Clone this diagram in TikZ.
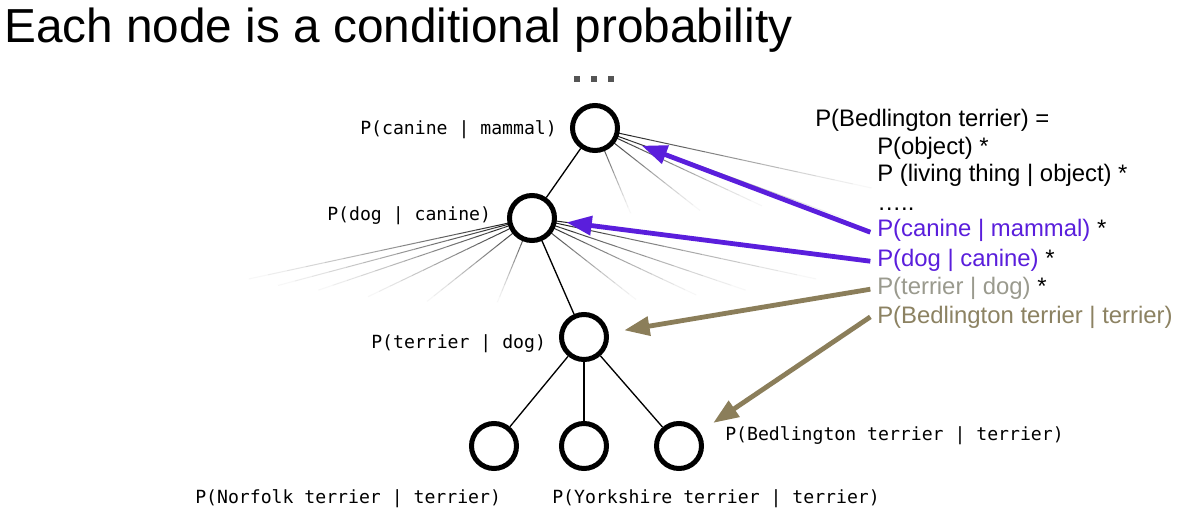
\documentclass[tikz,border=0pt]{standalone}
\usepackage{fontspec}
\setmainfont{Liberation Sans}
\newfontfamily\monofont{DejaVu Sans Mono}
\usetikzlibrary{calc,arrows.meta,backgrounds}
\definecolor{purp}{HTML}{5A1EDC}
\definecolor{tanc}{HTML}{8B7E5A}
\definecolor{tanctext}{HTML}{8C8262}
\definecolor{tgray}{HTML}{9A9A8E}
\definecolor{dotgray}{HTML}{555555}
\tikzset{
  prob/.style={circle, draw=black, line width=3.75pt, fill=white, minimum size=33.75pt, inner sep=0pt},
  mlabel/.style={font=\monofont\fontsize{13.6}{16}\selectfont, anchor=base west, inner sep=0pt},
  eqline/.style={font=\fontsize{17.9}{21}\selectfont, anchor=base west, inner sep=0pt},
  treeedge/.style={line width=1pt, black},
  parrow/.style={draw=purp, line width=3.6pt, -{Triangle[length=19pt,width=14pt]}},
  tarrow/.style={draw=tanc, line width=3.6pt, -{Triangle[length=19pt,width=14pt]}},
  dotsq/.style={fill=dotgray, minimum size=4.5pt, inner sep=0pt, draw=none},
}
\newcommand\fanline[2]{%
  \foreach \i in {0,...,15}{%
    \pgfmathsetmacro\pa{\i/16}%
    \pgfmathsetmacro\pb{(\i+1)/16}%
    \pgfmathtruncatemacro\pc{100*(1-(\i+0.5)/16)^1.4}%
    \draw[line width=0.75pt, black!\pc] ($(#1)!\pa!(#2)$) -- ($(#1)!\pb!(#2)$);
  }}
\begin{document}
\begin{tikzpicture}[x=0.75pt,y=-0.75pt]
\useasboundingbox (0,0) rectangle (1180,520);

% title
\node[anchor=base west, font=\fontsize{35.8}{40}\selectfont, inner sep=0pt] (title) at (4,43) {Each node is a conditional probability};

% dots on top
\node[dotsq] (d1) at (577,79) {};
\node[dotsq] (d2) at (594,79) {};
\node[dotsq] (d3) at (611,79) {};

% tree nodes
\node[prob] (canine) at (595,128) {};
\node[prob] (dog) at (532,218) {};
\node[prob] (terrier) at (584,337) {};
\node[prob] (norfolk) at (494,446) {};
\node[prob] (yorkshire) at (584,446) {};
\node[prob] (bedlington) at (679,446) {};

% fan end points
\coordinate (c1) at (890,192);
\coordinate (c2) at (860,224);
\coordinate (c3) at (773,211);
\coordinate (c4) at (707,216);
\coordinate (c5) at (633,219);
\coordinate (l1) at (230,283);
\coordinate (l2) at (261,290);
\coordinate (l3) at (304,295);
\coordinate (l4) at (357,302);
\coordinate (l5) at (420,307);
\coordinate (l6) at (495,308);
\coordinate (r1) at (862,260);
\coordinate (r2) at (835,283);
\coordinate (r3) at (760,295);
\coordinate (r4) at (707,300);
\coordinate (r5) at (643,305);

\begin{scope}[on background layer]
  \fill[white] (0,0) rectangle (1180,520);
  \foreach \e in {c1,c2,c3,c4,c5}{\fanline{canine.center}{\e}}
  \foreach \e in {l1,l2,l3,l4,l5,l6,r1,r2,r3,r4,r5}{\fanline{dog.center}{\e}}
\end{scope}

% tree edges
\draw[treeedge] (canine) -- (dog);
\draw[treeedge] (dog) -- (terrier);
\draw[treeedge] (terrier) -- (norfolk);
\draw[treeedge] (terrier) -- (yorkshire);
\draw[treeedge] (terrier) -- (bedlington);

% node labels
\node[mlabel] (lcanine) at (360,135) {P(canine | mammal)};
\node[mlabel] (ldog) at (327,220) {P(dog | canine)};
\node[mlabel] (lterrier) at (371,348) {P(terrier | dog)};
\node[mlabel] (lbed) at (725,440) {P(Bedlington terrier | terrier)};
\node[mlabel] (lnor) at (195,503) {P(Norfolk terrier | terrier)};
\node[mlabel] (lyor) at (552,503) {P(Yorkshire terrier | terrier)};

% equation text
\node[eqline] (eq1) at (815,127) {P(Bedlington terrier) =};
\node[eqline] (eq2) at (877,155) {P(object) *};
\node[eqline] (eq3) at (877,182) {P (living thing | object) *};
\node[eqline] (eq4) at (877,210) {…..};
\node[eqline] (eq5) at (877,237) {\textcolor{purp}{P(canine | mammal)} *};
\node[eqline] (eq6) at (877,266) {\textcolor{purp}{P(dog | canine)} *};
\node[eqline] (eq7) at (877,294) {\textcolor{tgray}{P(terrier | dog)} *};
\node[eqline] (eq8) at (877,323) {\textcolor{tanctext}{P(Bedlington terrier | terrier)}};

% arrows
\coordinate (s5) at ([xshift=-5pt,yshift=-1pt]eq5.west);
\coordinate (s6) at ([xshift=-5pt,yshift=-1pt]eq6.west);
\coordinate (s7) at ([xshift=-5pt,yshift=-1pt]eq7.west);
\coordinate (s8) at ([xshift=-5pt,yshift=0pt]eq8.west);
\draw[parrow] (s5) -- ($(canine)!37.5pt!(s5)$);
\draw[parrow] (s6) -- ($(dog)!26pt!(s6)$);
\draw[tarrow] (s7) -- ($(terrier)!30.6pt!(s7)$);
\draw[tarrow] (s8) -- ($(bedlington)!31pt!(s8)$);
\end{tikzpicture}
\end{document}
